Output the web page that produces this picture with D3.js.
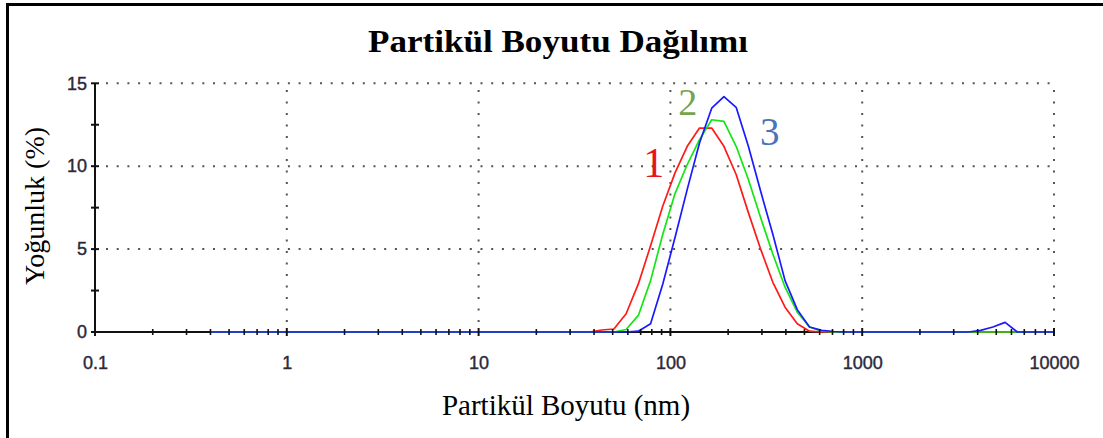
<!DOCTYPE html>
<html>
<head>
<meta charset="utf-8">
<script src="https://cdn.jsdelivr.net/npm/d3@7"></script>
<style>
  html, body { margin: 0; padding: 0; background: #fff; }
  svg { display: block; }
</style>
</head>
<body>
<svg id="chart" width="1103" height="438"></svg>
<script>
// Size classes (nm) of the distribution
const sizes = [0.4, 0.4632, 0.5365, 0.6213, 0.7195, 0.8332, 0.965, 1.117, 1.294, 1.499,
  1.736, 2.01, 2.328, 2.696, 3.122, 3.615, 4.187, 4.849, 5.615, 6.503,
  7.531, 8.721, 10.1, 11.7, 13.54, 15.69, 18.17, 21.04, 24.36, 28.21,
  32.67, 37.84, 43.82, 50.75, 58.77, 68.06, 78.82, 91.28, 105.7, 122.4,
  141.8, 164.2, 190.1, 220.2, 255, 295.3, 342, 396.1, 458.7, 531.2,
  615.1, 712.4, 825, 955.4, 1106, 1281, 1484, 1718, 1990, 2305,
  2669, 3091, 3580, 4145, 4801, 5560, 6439, 7456, 8635, 10000];

// Intensity (%) per size class, one list per sample
const sample1 = [0, 0, 0, 0, 0, 0, 0, 0, 0, 0,
  0, 0, 0, 0, 0, 0, 0, 0, 0, 0,
  0, 0, 0, 0, 0, 0, 0, 0, 0, 0,
  0, 0, 0.12, 0.18, 1.1, 2.9, 5.2, 7.6, 9.6, 11.2,
  12.3, 12.3, 11.2, 9.5, 7.2, 5.0, 3.0, 1.5, 0.5, 0.05,
  0, 0, 0, 0, 0, 0, 0, 0, 0, 0,
  0, 0, 0, 0, 0, 0, 0, 0, 0, 0];

const sample2 = [0, 0, 0, 0, 0, 0, 0, 0, 0, 0,
  0, 0, 0, 0, 0, 0, 0, 0, 0, 0,
  0, 0, 0, 0, 0, 0, 0, 0, 0, 0,
  0, 0, 0, 0, 0.15, 1.0, 3.1, 5.9, 8.35, 10.1,
  11.6, 12.8, 12.7, 11.2, 9.2, 6.9, 4.7, 2.7, 1.2, 0.3,
  0.05, 0, 0, 0, 0, 0, 0, 0, 0, 0,
  0, 0, 0, 0, 0, 0, 0, 0, 0, 0];

const sample3 = [0, 0, 0, 0, 0, 0, 0, 0, 0, 0,
  0, 0, 0, 0, 0, 0, 0, 0, 0, 0,
  0, 0, 0, 0, 0, 0, 0, 0, 0, 0,
  0, 0, 0, 0, 0, 0.05, 0.5, 2.9, 5.7, 8.6,
  11.4, 13.5, 14.2, 13.55, 11.2, 8.5, 5.9, 3.1, 1.35, 0.3,
  0.1, 0.03, 0, 0, 0, 0, 0, 0, 0, 0,
  0, 0, 0, 0.1, 0.3, 0.58, 0, 0, 0, 0];

const seriesNames = ["1", "2", "3"];
const xTickValues = [0.1, 1, 10, 100, 1000, 10000];
const xTickLabels = ["0.1", "1", "10", "100", "1000", "10000"];
const yTickValues = [0, 5, 10, 15];
const yTickLabels = ["0", "5", "10", "15"];

const titleText = "Partikül Boyutu Dağılımı";
const xTitle = "Partikül Boyutu (nm)";
const yTitle = "Yoğunluk (%)";

const svg = d3.select("#chart");

// Page frame (left and top rules)
svg.append("path")
  .attr("d", "M7.5,438 V4.5 H1103")
  .attr("fill", "none")
  .attr("stroke", "#000")
  .attr("stroke-width", 3);

const x = d3.scaleLog().domain([0.1, 10000]).range([95, 1054]);
const y = d3.scaleLinear().domain([0, 15]).range([332, 83.3]);

// Dotted grid
const grid = svg.append("g").attr("stroke", "#555").attr("stroke-width", 2);
grid.selectAll("line.h").data(yTickValues.filter(v => v > 0)).join("line")
  .attr("class", "h")
  .attr("x1", x(0.1) + 11).attr("x2", x(10000))
  .attr("y1", d => y(d)).attr("y2", d => y(d))
  .attr("stroke-dasharray", "2 8.7");
grid.selectAll("line.v").data(xTickValues.filter(v => v > 0.1)).join("line")
  .attr("class", "v")
  .attr("x1", d => x(d)).attr("x2", d => x(d))
  .attr("y1", y(0) - 10).attr("y2", y(15))
  .attr("stroke-dasharray", "2 9.5");

// Axis lines
svg.append("line")
  .attr("x1", x(0.1)).attr("x2", x(10000))
  .attr("y1", y(0)).attr("y2", y(0))
  .attr("stroke", "#111").attr("stroke-width", 2);
svg.append("line")
  .attr("x1", x(0.1)).attr("x2", x(0.1))
  .attr("y1", y(0)).attr("y2", y(15))
  .attr("stroke", "#111").attr("stroke-width", 2);

// Distribution curves
const line = d3.line()
  .x(d => x(d[0]))
  .y(d => y(d[1]));
const samples = [sample1, sample2, sample3];
const colors = ["#ff1a1a", "#14e614", "#1a1aff"];
svg.append("g").selectAll("path").data(samples).join("path")
  .attr("d", s => line(sizes.map((v, i) => [v, s[i]])))
  .attr("fill", "none")
  .attr("stroke", (d, i) => colors[i])
  .attr("stroke-width", 1.7)
  .attr("stroke-linejoin", "round");

// X axis ticks (decades and sub-decades)
const xAxis = d3.axisBottom(x)
  .tickValues(xTickValues)
  .tickFormat((d, i) => xTickLabels[i])
  .tickSize(0);
const gx = svg.append("g").attr("transform", `translate(0,${y(0)})`).call(xAxis);
gx.select(".domain").remove();
gx.selectAll("text")
  .attr("y", 37)
  .attr("dy", null)
  .attr("fill", "#2c2838")
  .attr("stroke", "#2c2838")
  .attr("stroke-width", 0.4)
  .style("font-family", "'Liberation Sans', Arial, sans-serif")
  .style("font-size", "18px");

const minorX = [];
for (let k = -1; k < 4; k++) {
  for (let m = 2; m <= 9; m++) minorX.push(m * Math.pow(10, k));
}
const tickG = svg.append("g").attr("stroke", "#111");
tickG.selectAll("line.mx").data(minorX).join("line")
  .attr("class", "mx")
  .attr("x1", d => x(d)).attr("x2", d => x(d))
  .attr("y1", y(0) - 3).attr("y2", y(0) + 3)
  .attr("stroke-width", 1.6);
tickG.selectAll("line.Mx").data(xTickValues).join("line")
  .attr("class", "Mx")
  .attr("x1", d => x(d)).attr("x2", d => x(d))
  .attr("y1", y(0) - 4).attr("y2", y(0) + 4)
  .attr("stroke-width", 2);

// Y axis ticks
const yAxis = d3.axisLeft(y)
  .tickValues(yTickValues)
  .tickFormat((d, i) => yTickLabels[i])
  .tickSize(0);
const gy = svg.append("g").attr("transform", `translate(${x(0.1)},0)`).call(yAxis);
gy.select(".domain").remove();
gy.selectAll("text")
  .attr("x", -8)
  .attr("fill", "#2c2838")
  .attr("stroke", "#2c2838")
  .attr("stroke-width", 0.4)
  .style("font-family", "'Liberation Sans', Arial, sans-serif")
  .style("font-size", "18px");
tickG.selectAll("line.y").data([0, 2.5, 5, 7.5, 10, 12.5, 15]).join("line")
  .attr("class", "y")
  .attr("x1", x(0.1) - 4).attr("x2", x(0.1) + 4)
  .attr("y1", d => y(d)).attr("y2", d => y(d))
  .attr("stroke-width", 2);

// Curve labels, anchored in data space next to each peak
const labelColors = ["#e8141c", "#77a34a", "#4a73ba"];
const labelAt = [[82, 9.35, 42], [123, 13.1, 38], [330, 11.3, 39]];
svg.append("g").selectAll("text").data(seriesNames).join("text")
  .attr("x", (d, i) => x(labelAt[i][0]))
  .attr("y", (d, i) => y(labelAt[i][1]))
  .attr("text-anchor", "middle")
  .attr("fill", (d, i) => labelColors[i])
  .style("font-family", "'Liberation Serif', 'Times New Roman', serif")
  .style("font-size", (d, i) => labelAt[i][2] + "px")
  .text(d => d);

// Titles
svg.append("text")
  .attr("x", 558).attr("y", 52)
  .attr("text-anchor", "middle")
  .attr("textLength", 380)
  .attr("lengthAdjust", "spacingAndGlyphs")
  .style("font-family", "'Liberation Serif', 'Times New Roman', serif")
  .style("font-weight", "bold")
  .style("font-size", "31px")
  .text(titleText);

svg.append("text")
  .attr("x", 566).attr("y", 415)
  .attr("text-anchor", "middle")
  .style("font-family", "'Liberation Serif', 'Times New Roman', serif")
  .style("font-size", "29px")
  .text(xTitle);

svg.append("text")
  .attr("transform", "translate(44,206) rotate(-90)")
  .attr("text-anchor", "middle")
  .style("font-family", "'Liberation Serif', 'Times New Roman', serif")
  .style("font-size", "28px")
  .text(yTitle);
</script>
</body>
</html>
